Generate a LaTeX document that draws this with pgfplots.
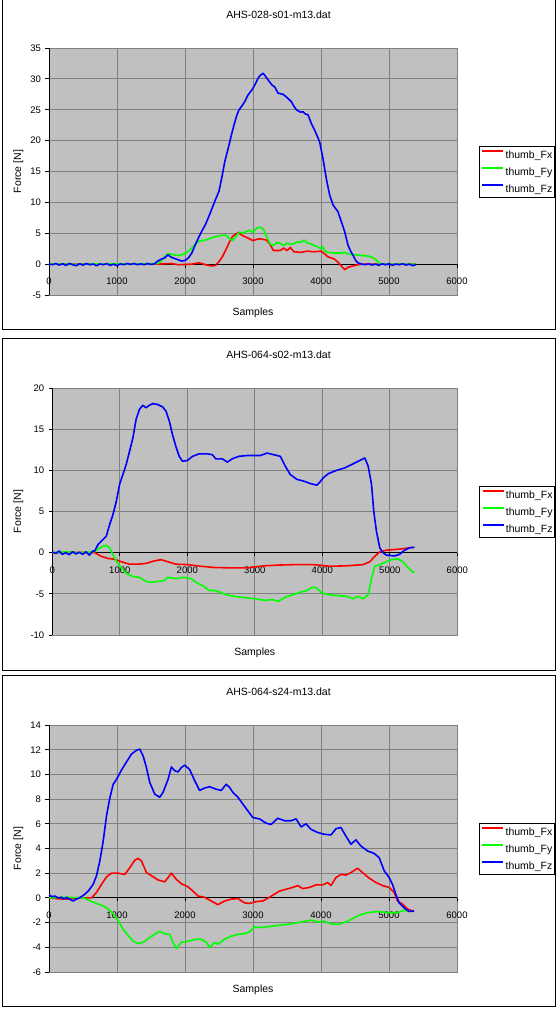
\documentclass[border=0pt]{standalone}
\usepackage{fontspec}
\setmainfont{Liberation Sans}
\usepackage{pgfplots}
\pgfplotsset{compat=1.18}
\definecolor{plotgray}{RGB}{192,192,192}
\definecolor{gridgray}{RGB}{128,128,128}
\definecolor{xred}{RGB}{255,0,0}
\definecolor{xgreen}{RGB}{0,255,0}
\definecolor{xblue}{RGB}{0,0,255}
\newcommand\txtfont{\fontsize{10.5}{12}\selectfont}
\newcommand\tickfont{\fontsize{9.5}{11}\selectfont}
\newcommand\legtxt[1]{\makebox[46pt][l]{#1}}
\pgfplotsset{
 excel/.style={
  scale only axis, height=247pt,
  xmin=0, xmax=6000, xtick={0,1000,...,6000},
  scaled x ticks=false, scaled y ticks=false,
  /pgf/number format/1000 sep={},
  /pgf/number format/assume math mode=true,
  axis x line=middle, axis y line=left,
  x axis line style={-, black, line width=0.8pt},
  y axis line style={-, black, line width=0.8pt},
  every inner x axis line/.append style={-},
  every outer y axis line/.append style={-},
  hide obscured x ticks=false, hide obscured y ticks=false,
  axis background/.style={fill=plotgray, draw=gridgray, line width=0.8pt},
  grid=major, major grid style={gridgray, line width=0.8pt},
  tick align=outside, major tick length=3.5pt,
  tick style={black, line width=0.8pt},
  ticklabel style={font=\tickfont},
  xticklabel style={yshift=-7pt},
  yticklabel style={xshift=-1pt},
  xlabel=Samples, ylabel={Force [N]},
  every axis x label/.style={at={(axis description cs:0.5,0)}, anchor=center, yshift=-17.5pt, font=\txtfont},
  every axis y label/.style={at={(axis description cs:0,0.5)}, rotate=90, anchor=center, font=\txtfont},
  every axis title/.style={at={(axis description cs:0.5,1)}, anchor=center, yshift=33.5pt, font=\txtfont},
  legend style={at={(axis description cs:1,0.5)}, anchor=west, xshift=22pt, draw=black, line width=0.8pt, fill=white, font=\txtfont, inner xsep=2pt, inner ysep=0pt, row sep=0pt,
    nodes={inner xsep=1pt, inner ysep=0pt, text height=12.5pt, text depth=4.5pt}},
  legend cell align=left,
 },
 sFx/.style={xred, line width=1.6pt, no markers, line join=round, legend image code/.code={\draw[xred, line width=2.2pt] (0pt,3.5pt) -- (21pt,3.5pt);}},
 sFy/.style={xgreen, line width=1.6pt, no markers, line join=round, legend image code/.code={\draw[xgreen, line width=2.2pt] (0pt,3.5pt) -- (21pt,3.5pt);}},
 sFz/.style={xblue, line width=1.6pt, no markers, line join=round, legend image code/.code={\draw[xblue, line width=2.2pt] (0pt,3.5pt) -- (21pt,3.5pt);}},
}
\begin{document}
\begin{tikzpicture}
\useasboundingbox (0,0) rectangle (556pt,1010pt);
\draw[line width=1pt] (2pt,680pt) rectangle (555.5pt,1013pt);
\draw[line width=1pt] (2pt,339pt) rectangle (555.5pt,671pt);
\draw[line width=1pt] (2pt,3.5pt) rectangle (555.5pt,334.3pt);
% ---------------- Panel 1
\begin{axis}[excel, at={(49pt,715pt)}, anchor=south west, width=408pt,
  ymin=-5, ymax=35, ytick={-5,0,...,35},
  title={AHS-028-s01-m13.dat}, title style={xshift=25.5pt},
  ylabel style={yshift=30.6pt}]
\addplot[sFx] coordinates {(0,0)(1600,0)(1700,0.05)(1800,0.1)(1900,-0.1)(2000,-0.05)(2100,0)(2200,0.2)(2250,0.1)(2300,-0.1)(2400,-0.3)(2450,-0.2)(2500,0.4)(2550,1.2)(2600,2.3)(2650,3.5)(2700,4.5)(2780,5.1)(2850,4.6)(2950,4.1)(3000,3.8)(3050,4.0)(3100,4.1)(3200,3.9)(3250,3.2)(3300,2.2)(3400,2.2)(3450,2.6)(3500,2.2)(3550,2.7)(3600,2.0)(3700,1.9)(3800,2.1)(3900,2.0)(4000,2.1)(4050,1.7)(4100,1.2)(4200,0.8)(4250,0.3)(4300,-0.3)(4350,-0.9)(4400,-0.5)(4500,-0.2)(4600,0)(5400,0)};
\addlegendentry{\legtxt{thumb\_Fx}}
\addplot[sFy] coordinates {(0,0.05)(400,-0.05)(800,0.05)(1200,0)(1600,0.1)(1650,0.5)(1700,1.2)(1750,1.7)(1800,1.6)(1850,1.5)(1900,1.4)(1950,1.5)(2000,1.7)(2050,2.1)(2100,2.6)(2150,3.2)(2200,3.7)(2300,3.9)(2400,4.3)(2500,4.6)(2600,4.7)(2650,4.2)(2700,3.8)(2750,4.5)(2800,5.2)(2850,5.0)(2900,5.3)(2950,5.5)(3000,5.1)(3050,5.8)(3100,6.0)(3150,5.7)(3200,4.5)(3250,3.3)(3300,3.0)(3350,3.5)(3400,3.4)(3450,3.0)(3500,3.4)(3550,3.2)(3600,3.3)(3650,3.6)(3700,3.5)(3750,3.9)(3800,3.4)(3850,3.3)(3900,3.0)(3950,2.8)(4000,2.5)(4020,2.9)(4050,2.2)(4100,1.9)(4200,1.8)(4300,1.8)(4350,1.9)(4400,1.6)(4500,1.5)(4600,1.4)(4700,1.3)(4750,1.1)(4800,0.8)(4850,0.2)(4900,0)(5400,0)};
\addlegendentry{\legtxt{thumb\_Fy}}
\addplot[sFz] coordinates {(0,0.05)(50,-0.1)(100,0.1)(150,-0.15)(200,0.05)(250,-0.2)(300,0.1)(350,-0.1)(400,-0.25)(450,0.05)(500,-0.15)(550,0.1)(600,-0.1)(650,0)(700,-0.25)(750,0.05)(800,-0.1)(850,0.1)(900,-0.2)(950,0)(1000,-0.25)(1050,0.05)(1100,-0.1)(1150,0.1)(1200,-0.05)(1250,0.1)(1300,-0.1)(1350,0.05)(1400,-0.1)(1450,0.1)(1500,-0.05)(1550,0.05)(1600,0.5)(1650,0.8)(1700,1.0)(1750,1.5)(1800,1.1)(1850,0.9)(1900,0.7)(1950,0.5)(2000,0.6)(2050,1.0)(2100,1.8)(2150,3.1)(2200,4.3)(2250,5.4)(2300,6.4)(2350,7.7)(2400,9.1)(2450,10.5)(2500,11.8)(2550,14.5)(2585,16.6)(2648,19.3)(2682,20.9)(2720,22.5)(2756,23.9)(2790,24.9)(2829,25.5)(2878,26.3)(2927,27.4)(2970,28.0)(3001,28.5)(3040,29.3)(3074,30.1)(3110,30.6)(3148,30.9)(3172,30.6)(3210,30.0)(3245,29.5)(3280,29.0)(3319,28.7)(3368,27.7)(3441,27.5)(3500,27.0)(3564,26.3)(3600,25.6)(3637,25.0)(3700,24.6)(3735,24.7)(3770,24.3)(3808,24.2)(3857,22.8)(3906,21.7)(3950,20.6)(3980,19.8)(4029,17.1)(4077,13.9)(4127,11.2)(4176,9.6)(4249,8.5)(4298,6.9)(4347,5.3)(4396,3.1)(4440,2.0)(4469,1.5)(4510,0.6)(4543,0.2)(4600,0.0)(4650,-0.1)(4700,0.05)(4750,-0.15)(4800,0)(4850,-0.2)(4900,0.05)(4950,-0.1)(5000,0.05)(5050,-0.2)(5100,0)(5150,-0.1)(5200,0.05)(5250,-0.15)(5300,0)(5350,-0.25)(5400,-0.05)};
\addlegendentry{\legtxt{thumb\_Fz}}
\end{axis}
% ---------------- Panel 2
\begin{axis}[excel, at={(52.3pt,375pt)}, anchor=south west, width=405pt,
  ymin=-10, ymax=20, ytick={-10,-5,...,20},
  title={AHS-064-s02-m13.dat}, title style={xshift=23.7pt},
  ylabel style={yshift=33.9pt}]
\addplot[sFx] coordinates {(0,0)(300,0.05)(600,0)(628,0)(727,-0.45)(825,-0.7)(923,-0.8)(1021,-1.1)(1144,-1.4)(1267,-1.4)(1389,-1.3)(1512,-1.0)(1610,-0.85)(1709,-1.1)(1831,-1.4)(2003,-1.45)(2200,-1.65)(2396,-1.8)(2642,-1.85)(2887,-1.85)(3133,-1.6)(3378,-1.5)(3624,-1.45)(3869,-1.45)(4114,-1.65)(4360,-1.6)(4606,-1.45)(4704,-1.1)(4778,-0.45)(4851,0.1)(4949,0.3)(5096,0.4)(5219,0.5)(5342,0.65)};
\addlegendentry{\legtxt{thumb\_Fx}}
\addplot[sFy] coordinates {(0,0)(200,0.1)(400,0)(600,0.1)(628,0.15)(727,0.7)(800,0.9)(849,0.55)(923,-0.65)(997,-1.65)(1095,-2.5)(1193,-2.9)(1291,-3.0)(1389,-3.5)(1463,-3.6)(1561,-3.5)(1659,-3.4)(1709,-3.0)(1831,-3.15)(1954,-3.0)(2052,-3.15)(2150,-3.7)(2249,-4.1)(2323,-4.6)(2421,-4.6)(2543,-5.0)(2617,-5.2)(2740,-5.35)(2887,-5.5)(3010,-5.6)(3157,-5.8)(3255,-5.7)(3354,-5.9)(3452,-5.4)(3575,-5.1)(3673,-4.8)(3771,-4.6)(3845,-4.2)(3918,-4.3)(3992,-4.9)(4090,-5.1)(4213,-5.2)(4360,-5.3)(4458,-5.6)(4532,-5.3)(4606,-5.6)(4680,-5.1)(4729,-3.1)(4778,-1.65)(4851,-1.45)(4949,-1.1)(5047,-0.8)(5121,-0.75)(5194,-1.1)(5268,-1.8)(5342,-2.35)(5367,-2.4)};
\addlegendentry{\legtxt{thumb\_Fy}}
\addplot[sFz] coordinates {(0,0.1)(50,-0.1)(100,0.2)(150,-0.2)(200,0)(250,-0.25)(300,0.1)(350,-0.15)(400,0.05)(450,-0.2)(500,0.1)(550,-0.3)(600,0.2)(628,0.2)(678,1.0)(751,1.6)(800,2.0)(849,3.4)(898,4.6)(947,6.2)(997,8.3)(1046,9.5)(1095,10.7)(1144,12.3)(1193,13.9)(1242,16.2)(1291,17.4)(1340,17.9)(1389,17.6)(1438,17.9)(1488,18.1)(1561,18.0)(1635,17.7)(1684,17.2)(1733,16.0)(1782,14.3)(1831,12.9)(1880,11.7)(1930,11.1)(2003,11.2)(2077,11.7)(2175,12.0)(2298,12.0)(2372,11.9)(2421,11.4)(2519,11.4)(2593,11.0)(2666,11.4)(2764,11.7)(2887,11.8)(2985,11.8)(3083,11.8)(3182,12.1)(3280,11.9)(3378,11.7)(3452,10.5)(3525,9.5)(3624,8.9)(3722,8.7)(3820,8.4)(3918,8.2)(3967,8.6)(4016,9.1)(4090,9.6)(4213,10.0)(4335,10.3)(4434,10.7)(4532,11.1)(4630,11.5)(4680,10.5)(4729,8.3)(4763,5.0)(4802,2.6)(4851,0.6)(4900,0.0)(4949,-0.3)(5072,-0.4)(5145,-0.2)(5219,0.3)(5293,0.6)(5367,0.65)};
\addlegendentry{\legtxt{thumb\_Fz}}
\end{axis}
% ---------------- Panel 3
\begin{axis}[excel, at={(49pt,38pt)}, anchor=south west, width=408pt,
  ymin=-6, ymax=14, ytick={-6,-4,...,14},
  title={AHS-064-s24-m13.dat}, title style={xshift=25.5pt},
  ylabel style={yshift=30.6pt}]
\addplot[sFx] coordinates {(0,0)(100,-0.05)(200,-0.1)(300,-0.1)(400,0)(528,0)(626,0)(699,0.45)(773,1.1)(846,1.7)(919,2.0)(1017,2.0)(1115,1.9)(1188,2.45)(1262,3.05)(1311,3.2)(1359,3.0)(1433,2.05)(1506,1.8)(1604,1.45)(1702,1.3)(1751,1.65)(1800,2.0)(1873,1.5)(1946,1.15)(2044,0.9)(2117,0.55)(2191,0.15)(2288,0.05)(2386,-0.25)(2484,-0.55)(2582,-0.25)(2680,-0.1)(2778,-0.05)(2875,-0.4)(2949,-0.45)(3047,-0.3)(3144,-0.25)(3242,0.05)(3315,0.3)(3389,0.55)(3487,0.7)(3584,0.85)(3658,1.0)(3731,0.75)(3829,0.85)(3927,1.05)(4025,1.05)(4098,1.25)(4147,1.0)(4220,1.65)(4293,1.9)(4367,1.85)(4440,2.05)(4538,2.4)(4611,2.05)(4709,1.6)(4807,1.25)(4905,1.0)(5002,0.85)(5076,0.45)(5125,-0.25)(5198,-0.5)(5271,-0.9)(5369,-1.1)};
\addlegendentry{\legtxt{thumb\_Fx}}
\addplot[sFy] coordinates {(0,0)(250,0.05)(500,0)(528,-0.05)(675,-0.4)(797,-0.65)(870,-0.9)(944,-1.3)(1017,-1.85)(1091,-2.55)(1164,-3.05)(1237,-3.5)(1311,-3.7)(1384,-3.6)(1482,-3.2)(1555,-2.95)(1628,-2.7)(1702,-2.9)(1775,-2.95)(1824,-3.6)(1873,-4.1)(1946,-3.6)(2044,-3.5)(2166,-3.35)(2240,-3.35)(2313,-3.6)(2362,-4.0)(2435,-3.6)(2484,-3.75)(2582,-3.35)(2680,-3.1)(2778,-2.95)(2875,-2.9)(2949,-2.75)(3022,-2.35)(3120,-2.4)(3267,-2.3)(3413,-2.2)(3560,-2.1)(3707,-1.95)(3853,-1.8)(3951,-1.95)(4049,-1.9)(4147,-2.1)(4245,-2.15)(4342,-2.0)(4440,-1.75)(4562,-1.4)(4685,-1.2)(4831,-1.1)(4978,-1.2)(5125,-1.2)(5222,-1.0)(5296,-1.1)};
\addlegendentry{\legtxt{thumb\_Fy}}
\addplot[sFz] coordinates {(0,0.25)(40,0.1)(88,0.15)(130,0)(186,0.05)(220,-0.1)(259,0.05)(300,-0.1)(357,-0.25)(400,-0.1)(430,-0.05)(504,0.2)(577,0.55)(650,1.1)(699,1.8)(748,3.0)(797,4.6)(846,6.65)(895,8.1)(944,9.2)(993,9.6)(1066,10.35)(1139,11.0)(1213,11.65)(1286,11.95)(1335,12.05)(1384,11.5)(1433,10.55)(1482,9.35)(1555,8.4)(1628,8.15)(1677,8.55)(1751,9.6)(1800,10.6)(1848,10.3)(1897,10.2)(1946,10.55)(1995,10.75)(2068,10.4)(2142,9.5)(2215,8.7)(2288,8.9)(2362,9.0)(2460,8.8)(2533,8.7)(2606,9.2)(2655,8.95)(2704,8.55)(2778,8.15)(2851,7.6)(2924,7.05)(2998,6.5)(3095,6.4)(3193,6.05)(3267,5.95)(3364,6.45)(3462,6.25)(3560,6.25)(3633,6.4)(3707,5.75)(3780,6.0)(3853,5.55)(3951,5.3)(4049,5.15)(4147,5.1)(4220,5.6)(4293,5.7)(4367,5.0)(4440,4.35)(4513,4.7)(4587,4.2)(4685,3.8)(4782,3.6)(4856,3.25)(4929,2.2)(5002,1.65)(5051,1.1)(5100,0.3)(5149,-0.4)(5222,-0.8)(5296,-1.1)(5369,-1.05)};
\addlegendentry{\legtxt{thumb\_Fz}}
\end{axis}
\end{tikzpicture}
\end{document}
